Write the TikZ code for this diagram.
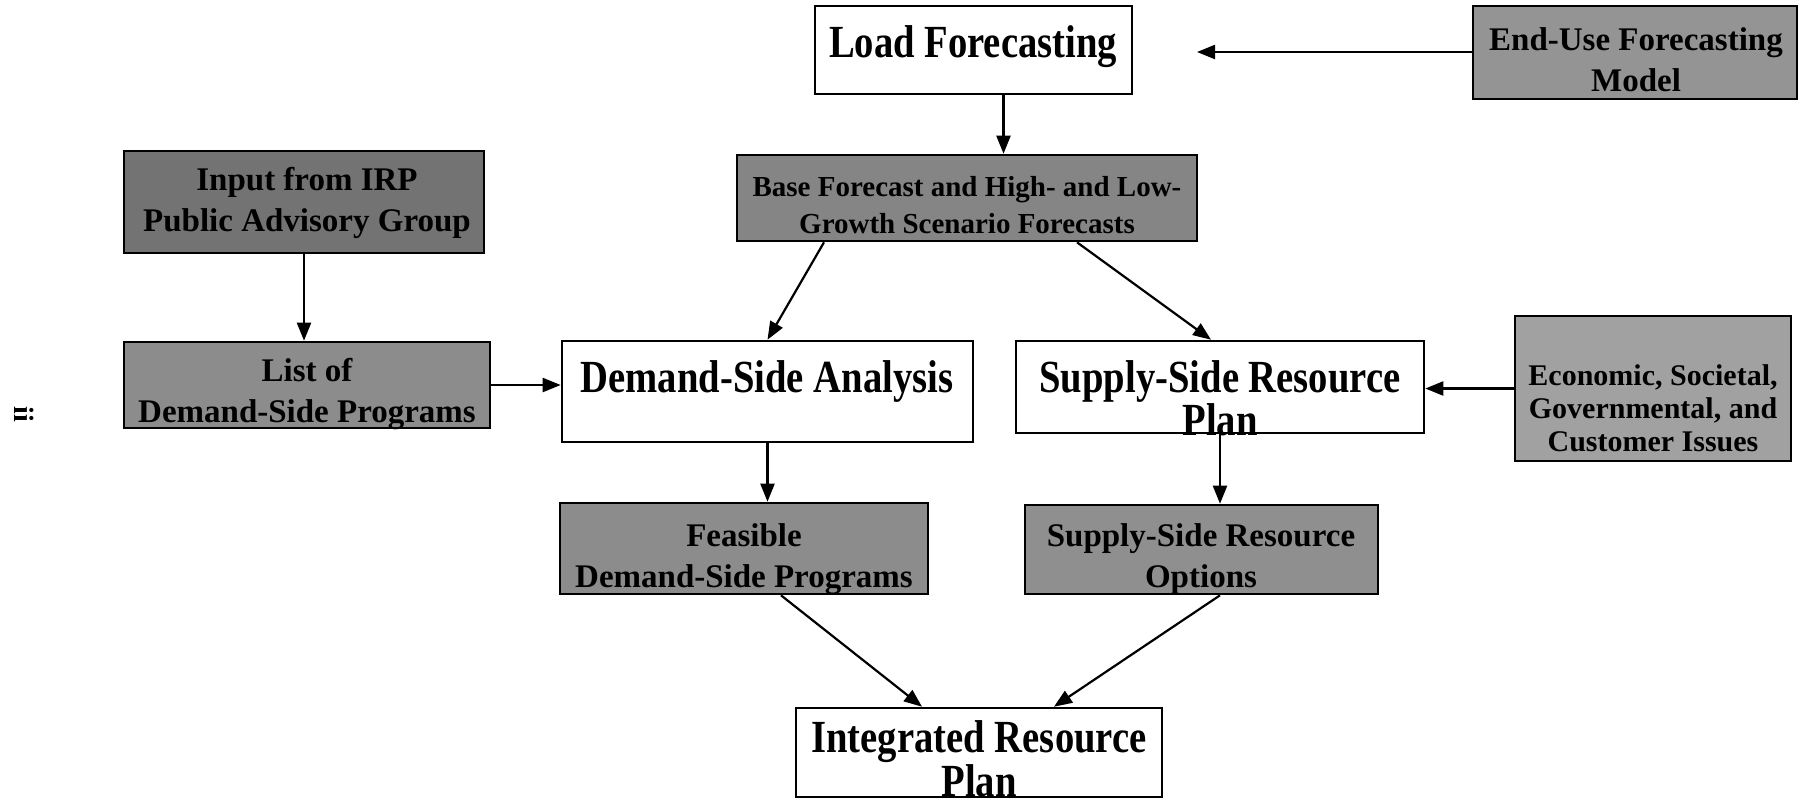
\documentclass[tikz,border=0pt]{standalone}
\usepackage{fontspec}
\setmainfont{Liberation Serif}
\newfontfamily\condfont[FakeStretch=0.84]{Liberation Serif}
\usetikzlibrary{arrows.meta,fit}
\definecolor{gInput}{gray}{0.45}
\definecolor{gBase}{gray}{0.52}
\definecolor{gList}{gray}{0.55}
\definecolor{gEnd}{gray}{0.58}
\definecolor{gEcon}{gray}{0.63}
\definecolor{gFeas}{gray}{0.55}
\definecolor{gOpt}{gray}{0.56}
\tikzset{
  whitebox/.style={draw, line width=1.3pt, fill=white, inner sep=0pt, rectangle},
  graybox/.style={draw, line width=1.3pt, inner sep=0pt, rectangle},
  bigtxt/.style={font=\condfont\bfseries\fontsize{23}{21.5}\selectfont, align=center, inner sep=0pt, anchor=north},
  graytxt/.style={font=\bfseries\fontsize{16.5}{20.5}\selectfont, align=center, inner sep=0pt},
  smalltxt/.style={font=\bfseries\fontsize{14.5}{18.5}\selectfont, align=center, inner sep=0pt},
  econtxt/.style={font=\bfseries\fontsize{15}{16.5}\selectfont, align=center, inner sep=0pt},
  conn/.style={-{Triangle[length=9pt,width=7pt]}, line width=1.1pt}
}
\begin{document}
\begin{tikzpicture}[x=0.5pt,y=-0.5pt]
\useasboundingbox (0,0) rectangle (1800,800);
% boxes
\node[whitebox, fit={(815,6) (1132,94)}] (load) {};
\node[graybox, fill=gEnd, fit={(1473,6) (1797,99)}] (enduse) {};
\node[graybox, fill=gBase, fit={(737,155) (1197,241)}] (base) {};
\node[graybox, fill=gInput, fit={(124,151) (484,253)}] (input) {};
\node[graybox, fill=gList, fit={(124,342) (490,428)}] (list) {};
\node[whitebox, fit={(562,341) (973,442)}] (demand) {};
\node[whitebox, fit={(1016,341) (1424,433)}] (supply) {};
\node[graybox, fill=gEcon, fit={(1515,316) (1791,461)}] (econ) {};
\node[graybox, fill=gFeas, fit={(560,503) (928,594)}] (feasible) {};
\node[graybox, fill=gOpt, fit={(1025,505) (1378,594)}] (options) {};
\node[whitebox, fit={(796,708) (1162,797)}] (irp) {};
% texts
\node[bigtxt] (loadt) at (973,25) {Load Forecasting};
\node[graytxt] (enduset) at (1636,60) {End-Use Forecasting\\Model};
\node[smalltxt] (baset) at (967,205) {Base Forecast and High- and Low-\\Growth Scenario Forecasts};
\node[graytxt] (inputt) at (307,203) {Input from IRP\\Public Advisory Group};
\node[graytxt] (listt) at (307,394) {List of\\Demand-Side Programs};
\node[bigtxt] (demandt) at (767,360) {Demand-Side Analysis};
\node[bigtxt] (supplyt) at (1220,360) {Supply-Side Resource\\Plan};
\node[econtxt] (econt) at (1653,408) {Economic, Societal,\\Governmental, and\\Customer Issues};
\node[graytxt] (feasiblet) at (744,559) {Feasible\\Demand-Side Programs};
\node[graytxt] (optionst) at (1201,559) {Supply-Side Resource\\Options};
\node[bigtxt, font=\condfont\bfseries\fontsize{23}{19.5}\selectfont] (irpt) at (979,720) {Integrated Resource\\Plan};
\node[font=\bfseries\fontsize{14}{16}\selectfont, rotate=-90, inner sep=0pt] (pageno) at (24,414) {ii};
% connectors
\coordinate (lftip) at (1197,52);
\draw[conn] (enduse.west |- lftip) -- (lftip);
\draw[conn] ([xshift=15pt]load.south) -- ([xshift=15pt]load.south |- base.north);
\draw[conn] (input.south) -- (input.south |- list.north);
\draw[conn] (list.east) -- (list.east -| demand.west);
\draw[conn] ([xshift=-71.5pt]base.south) -- (demand.north);
\draw[conn] ([xshift=55pt]base.south) -- ([xshift=-4.5pt]supply.north);
\draw[conn] (econ.west) -- (econ.west -| supply.east);
\draw[conn] (demand.south) -- (demand.south |- feasible.north);
\draw[conn] (supply.south) -- (supply.south |- options.north);
\draw[conn] ([xshift=18.5pt]feasible.south) -- ([xshift=-28.5pt]irp.north);
\draw[conn] ([xshift=9.25pt]options.south) -- ([xshift=37.5pt]irp.north);
\end{tikzpicture}
\end{document}
